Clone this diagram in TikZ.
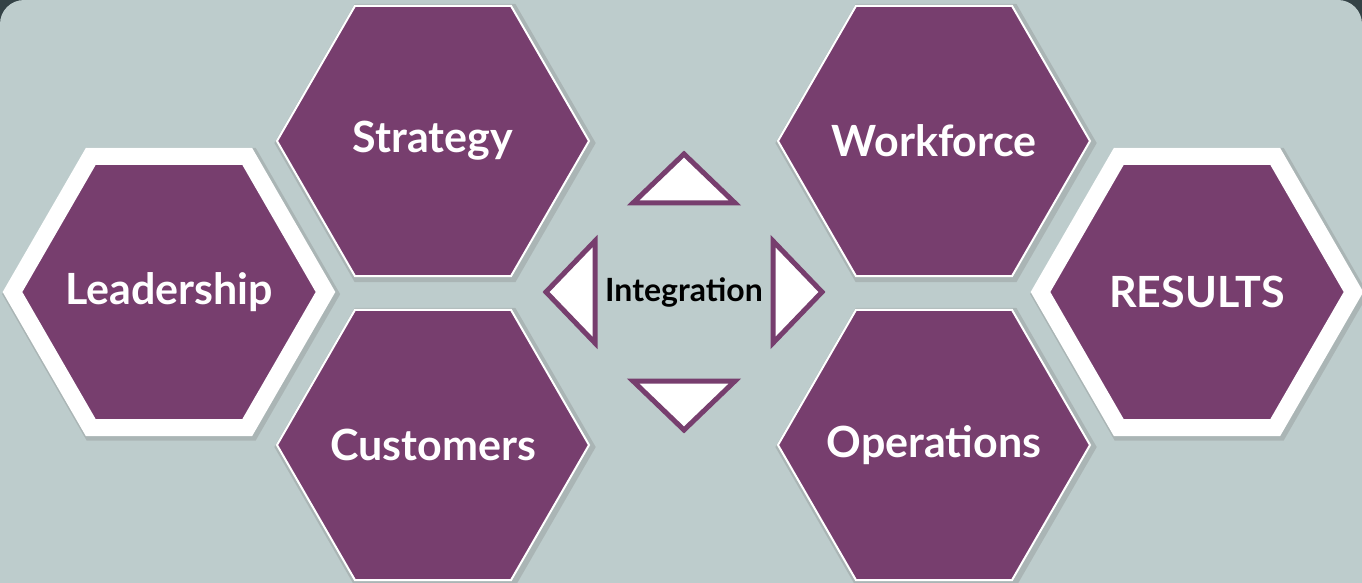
\documentclass[tikz,border=0pt]{standalone}
\usepackage{fontspec}
\setmainfont{Lato}
\usetikzlibrary{shapes.geometric,shadows}
\definecolor{hexpurple}{RGB}{119,62,110}
\definecolor{panelgray}{RGB}{189,204,204}
\definecolor{framedark}{RGB}{52,66,70}
\tikzset{
  hexa/.style={regular polygon,regular polygon sides=6,minimum size=156pt,inner sep=0pt,
    fill=hexpurple,draw=white,line width=1pt,text=white,
    font=\bfseries\fontsize{21.5}{24}\selectfont,
    execute at begin node={\hbox to 0pt\bgroup\hss},
    execute at end node={\hss\egroup},
    drop shadow={shadow xshift=1pt,shadow yshift=-1pt,shadow scale=1.03,opacity=.3}},
  bighexa/.style={hexa,minimum size=156.5pt,line width=8.5pt,
    drop shadow={shadow xshift=1pt,shadow yshift=-1pt,shadow scale=1.08,opacity=.3}},
  arrowtri/.style={draw=hexpurple,fill=white,line width=2.5pt,line join=miter}
}
\begin{document}
\begin{tikzpicture}[x=0.5pt,y=-0.5pt]
  \useasboundingbox (0,0) rectangle (1362,583);
  % panel with dark frame at the top corners
  \fill[framedark] (0,0) rectangle (1362,583);
  \fill[panelgray,rounded corners=12pt] (0,0) rectangle (1362,700);

  \node[hexa] (strategy) at (433,141) {Strategy};
  \node[hexa] (customers) at (433,445) {Customers};
  \node[hexa] (workforce) at (934,141) {Workforce};
  \node[hexa] (operations) at (934,445) {Operations};
  \node[bighexa] (leadership) at (169,292) {Leadership};
  \node[bighexa] (results) at (1197,292) {RESULTS};

  \node[font=\bfseries\fontsize{16}{18}\selectfont] (integration) at (684,292) {Integration};
  \foreach \a in {0,90,180,270}
    \draw[arrowtri,shift={(integration.center)},rotate=\a] (0,-138) -- (-51,-89) -- (51,-89) -- cycle;
\end{tikzpicture}
\end{document}
